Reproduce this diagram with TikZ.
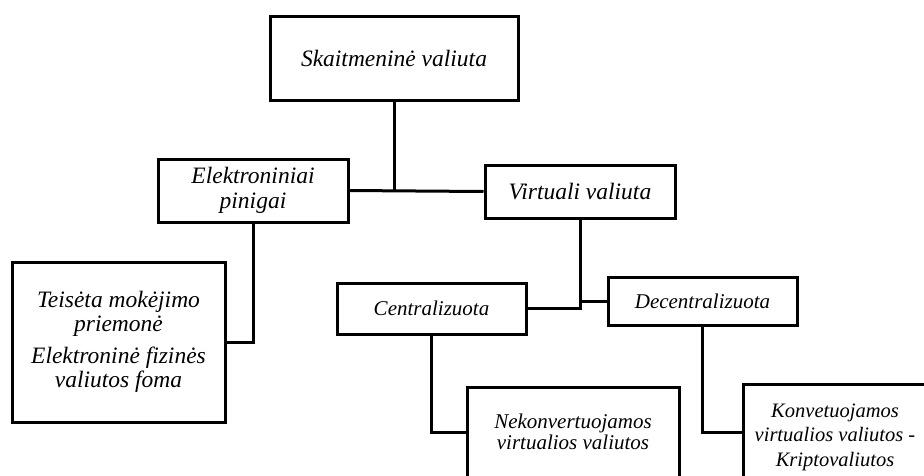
\documentclass[tikz,border=0pt]{standalone}
\usepackage{fontspec}
\setmainfont{Liberation Serif}
\begin{document}
\begin{tikzpicture}[x=1pt,y=-1pt,
  box/.style={draw=black,line width=3pt,rectangle,inner sep=0pt,align=center},
  big/.style={font={\fontsize{23.5}{24.5}\selectfont\itshape}},
  small/.style={font={\fontsize{21}{21.5}\selectfont\itshape}},
  conn/.style={line width=3pt}]
\useasboundingbox (0,0) rectangle (924,475);
\node[box,big,minimum width=248pt,minimum height=84pt] (top) at (394,58) {Skaitmeninė valiuta};
\node[box,big,minimum width=190pt,minimum height=63pt] (elek) at (253,190.5) {Elektroniniai\\pinigai};
\node[box,big,minimum width=190pt,minimum height=53pt] (virt) at (580,191.5) {Virtuali valiuta};
\node[box,big,minimum width=213pt,minimum height=160pt] (teis) at (118.5,342) {Teisėta mokėjimo\\priemonė\\[7pt]Elektroninė fizinės\\valiutos foma};
\node[box,small,minimum width=189pt,minimum height=51pt] (cent) at (431.5,308.5) {Centralizuota};
\node[box,small,minimum width=189pt,minimum height=48pt] (dec) at (702.5,301) {Decentralizuota};
\node[box,small,minimum width=212pt,minimum height=90pt] (nek) at (573,432) {Nekonvertuojamos\\virtualios valiutos};
\node[box,minimum width=184pt,minimum height=106pt,font={\fontsize{20.5}{24.5}\selectfont\itshape}] (kon) at (835,437) {Konvetuojamos\\virtualios valiutos -\\Kriptovaliutos};
\draw[conn] (elek.east) -- (virt.west);
\draw[conn] (top.south) -- (top.south |- virt.west);
\draw[conn] (elek.south) |- (teis.east);
\draw[conn] (virt.south) |- (cent.east);
\draw[conn] (virt.south |- dec.west) -- (dec.west);
\draw[conn] (cent.south) |- (nek.west);
\draw[conn] (dec.south) |- ([yshift=5pt]kon.west);
\end{tikzpicture}
\end{document}
